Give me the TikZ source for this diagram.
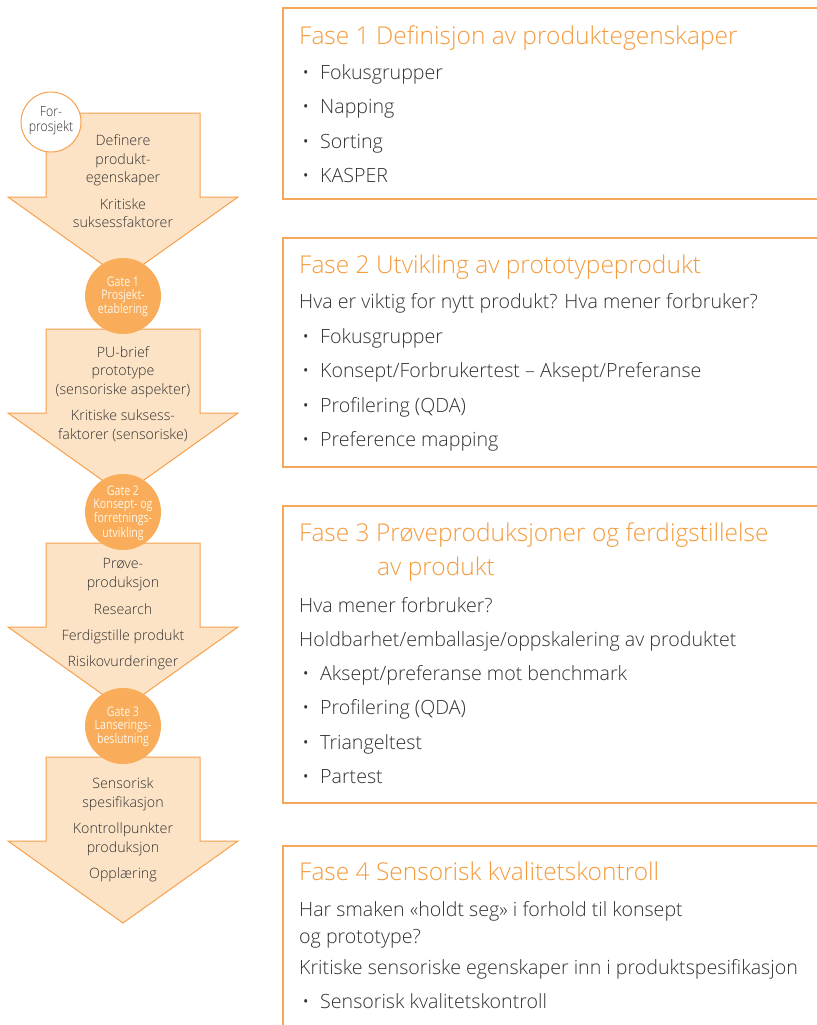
\documentclass[tikz,border=0pt]{standalone}
\usepackage{fontspec}
\setmainfont{Open Sans Light}
\newfontfamily\gatefont{Open Sans}
\definecolor{arrowfill}{RGB}{253,227,198}
\definecolor{arrowline}{RGB}{246,160,77}
\definecolor{gatefill}{RGB}{249,173,90}
\definecolor{gatetext}{RGB}{255,246,234}
\definecolor{boxline}{RGB}{246,168,90}
\definecolor{titlecol}{RGB}{245,155,60}
\definecolor{txt}{RGB}{50,50,50}
\tikzset{
  arrowshape/.style={fill=arrowfill, draw=arrowline, line width=1bp, line join=miter},
  gate/.style={circle, fill=gatefill, minimum size=76bp, inner sep=0pt},
  gatetxt/.style={text=gatetext, font=\gatefont\fontsize{13.3}{13.2}\selectfont, align=center,
    inner sep=0pt, xscale=0.8, transform shape},
  pre/.style={circle, fill=white, draw=arrowline, line width=1bp, minimum size=60bp, inner sep=0pt},
  pretxt/.style={text=txt, font=\fontsize{14}{15}\selectfont, align=center, inner sep=0pt,
    xscale=0.88, transform shape},
  ltxt/.style={anchor=base, text=txt, font=\fontsize{14.3}{16}\selectfont, inner sep=0pt},
  rtxt/.style={anchor=base west, text=txt, font=\fontsize{19.7}{20}\selectfont, inner sep=0pt},
  bul/.style={anchor=base west, text=txt, font=\fontsize{19.7}{20}\selectfont, inner sep=0pt},
  ttl/.style={anchor=base west, text=titlecol, font=\fontsize{24.6}{26}\selectfont, inner sep=0pt},
  boxedge/.style={draw=boxline, line width=1.2bp},
}
\begin{document}
\begin{tikzpicture}[x=1bp,y=-1bp]
\useasboundingbox (0,0) rectangle (817,1025);
% ---------- left arrows ----------
\foreach \T [count=\k] in {113,329,543,757}{
  \draw[arrowshape] (46,\T) -- (200,\T) -- (200,\T+84) -- (238,\T+84) -- (123,\T+166)
     -- (8,\T+84) -- (46,\T+84) -- cycle;
}
% gates
\node[gate] (g1) at (123,296) {};
\node[gate] (g2) at (123,512) {};
\node[gate] (g3) at (123,726) {};
\node[gatetxt] (g1t) at (123,297) {Gate 1\\Prosjekt-\\etablering};
\node[gatetxt] (g2t) at (123,513) {Gate 2\\Konsept- og\\forretnings-\\utvikling};
\node[gatetxt] (g3t) at (123,727) {Gate 3\\Lanserings-\\beslutning};
\node[pre] (pre) at (51,122) {};
\node[pretxt] (pret) at (51,121) {For-\\prosjekt};
% arrow texts
\node[ltxt] (a1a) at (123,145) {Definere};
\node[ltxt] (a1b) at (123,164) {produkt-};
\node[ltxt] (a1c) at (123,182) {egenskaper};
\node[ltxt] (a1d) at (123,209) {Kritiske};
\node[ltxt] (a1e) at (123,227) {suksessfaktorer};
\node[ltxt] (a2a) at (123,357) {PU-brief};
\node[ltxt] (a2b) at (123,375) {prototype};
\node[ltxt] (a2c) at (123,394) {(sensoriske aspekter)};
\node[ltxt] (a2d) at (123,420) {Kritiske suksess-};
\node[ltxt] (a2e) at (123,439) {faktorer (sensoriske)};
\node[ltxt] (a3a) at (123,568) {Prøve-};
\node[ltxt] (a3b) at (123,587) {produksjon};
\node[ltxt] (a3c) at (123,614) {Research};
\node[ltxt] (a3d) at (123,640) {Ferdigstille produkt};
\node[ltxt] (a3e) at (123,666) {Risikovurderinger};
\node[ltxt] (a4a) at (123,788) {Sensorisk};
\node[ltxt] (a4b) at (123,807) {spesifikasjon};
\node[ltxt] (a4c) at (123,833) {Kontrollpunkter};
\node[ltxt] (a4d) at (123,852) {produksjon};
\node[ltxt] (a4e) at (123,878) {Opplæring};
% ---------- right boxes ----------
\draw[boxedge] (817,8) -- (283,8) -- (283,199) -- (817,199);
\draw[boxedge] (817,238) -- (283,238) -- (283,467) -- (817,467);
\draw[boxedge] (817,506) -- (283,506) -- (283,803) -- (817,803);
\draw[boxedge] (817,846) -- (283,846) -- (283,1025);
% box 1
\node[ttl] (t1) at (299,44) {Fase 1 Definisjon av produktegenskaper};
\foreach \y [count=\k] in {79,113,148,182}{
  \node[bul] (b1d\k) at (302,\y) {•};
}
\node[rtxt] (b1i1) at (320,79) {Fokusgrupper};
\node[rtxt] (b1i2) at (320,113) {Napping};
\node[rtxt] (b1i3) at (320,148) {Sorting};
\node[rtxt] (b1i4) at (320,182) {KASPER};
% box 2
\node[ttl] (t2) at (299,273) {Fase 2 Utvikling av prototypeprodukt};
\node[rtxt] (b2q) at (299,308) {Hva er viktig for nytt produkt? Hva mener forbruker?};
\foreach \y [count=\k] in {343,377,412,446}{
  \node[bul] (b2d\k) at (302,\y) {•};
}
\node[rtxt] (b2i1) at (320,343) {Fokusgrupper};
\node[rtxt] (b2i2) at (320,377) {Konsept/Forbrukertest – Aksept/Preferanse};
\node[rtxt] (b2i3) at (320,412) {Profilering (QDA)};
\node[rtxt] (b2i4) at (320,446) {Preference mapping};
% box 3
\node[ttl] (t3a) at (299,541) {Fase 3 Prøveproduksjoner og ferdigstillelse};
\node[ttl] (t3b) at (377,575) {av produkt};
\node[rtxt] (b3q1) at (299,612) {Hva mener forbruker?};
\node[rtxt] (b3q2) at (299,646) {Holdbarhet/emballasje/oppskalering av produktet};
\foreach \y [count=\k] in {680,714,749,783}{
  \node[bul] (b3d\k) at (302,\y) {•};
}
\node[rtxt] (b3i1) at (320,680) {Aksept/preferanse mot benchmark};
\node[rtxt] (b3i2) at (320,714) {Profilering (QDA)};
\node[rtxt] (b3i3) at (320,749) {Triangeltest};
\node[rtxt] (b3i4) at (320,783) {Partest};
% box 4
\node[ttl] (t4) at (299,880) {Fase 4 Sensorisk kvalitetskontroll};
\node[rtxt] (b4q1) at (299,916) {Har smaken «holdt seg» i forhold til konsept};
\node[rtxt] (b4q2) at (299,943) {og prototype?};
\node[rtxt] (b4q3) at (299,974) {Kritiske sensoriske egenskaper inn i produktspesifikasjon};
\node[bul] (b4d1) at (302,1008) {•};
\node[rtxt] (b4i1) at (320,1008) {Sensorisk kvalitetskontroll};
\end{tikzpicture}
\end{document}
